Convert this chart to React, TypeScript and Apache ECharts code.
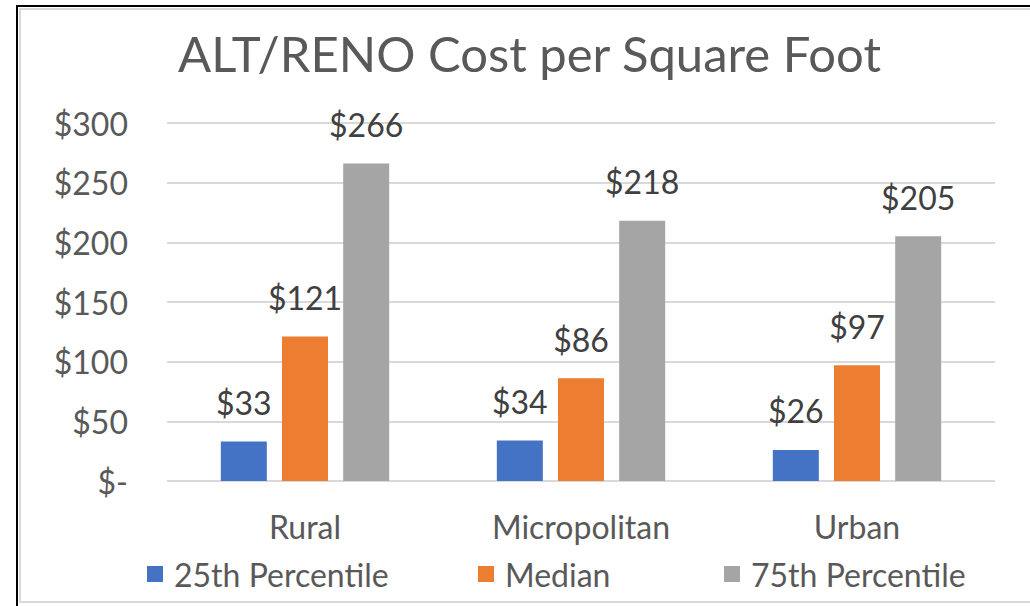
import React, { useEffect, useRef } from "react";
import * as echarts from "echarts";

const categories = ["Rural", "Micropolitan", "Urban"];
const seriesNames = ["25th Percentile", "Median", "75th Percentile"];
const p25 = [33, 34, 26];
const median = [121, 86, 97];
const p75 = [266, 218, 205];
const colors = ["#4472C4", "#ED7D31", "#A5A5A5"];
const yTicks = [0, 50, 100, 150, 200, 250, 300];

const FONT = "Lato";

export default function App() {
  const ref = useRef<HTMLDivElement>(null);
  useEffect(() => {
    if (!ref.current) return;
    const chart = echarts.init(ref.current, undefined, { renderer: "svg" });
    const values = [p25, median, p75];
    const legendLefts = [142, 473, 719];
    chart.setOption({
      animation: false,
      backgroundColor: "#ffffff",
      textStyle: { fontFamily: FONT },
      title: {
        text: "ALT/RENO Cost per Square Foot",
        left: 173,
        top: 23,
        textStyle: { fontFamily: FONT, fontSize: 49, fontWeight: "normal", color: "#595959" },
      },
      graphic: [
        {
          type: "rect",
          shape: { x: 17, y: 6, width: 1040, height: 640 },
          style: { fill: "none", stroke: "#000000", lineWidth: 2 },
          silent: true,
        },
        {
          type: "rect",
          shape: { x: 20, y: 9, width: 1030, height: 593 },
          style: { fill: "none", stroke: "#d9d9d9", lineWidth: 2 },
          silent: true,
        },
      ],
      legend: seriesNames.map((n, i) => ({
        data: [n],
        left: legendLefts[i],
        top: 553,
        itemWidth: 16,
        itemHeight: 16,
        icon: "rect",
        textStyle: { fontFamily: FONT, fontSize: 32, color: "#595959", padding: [0, 0, 0, 6] },
      })),
      grid: { left: 167, right: 35, top: 123, bottom: 125, containLabel: false },
      xAxis: {
        type: "category",
        data: categories,
        axisTick: { show: false },
        axisLine: { show: false },
        axisLabel: { fontFamily: FONT, fontSize: 32, color: "#595959", margin: 29 },
      },
      yAxis: {
        type: "value",
        min: 0,
        max: yTicks[yTicks.length - 1],
        interval: 50,
        axisLine: { show: false },
        axisTick: { show: false },
        splitLine: { lineStyle: { color: "#d9d9d9", width: 2 } },
        axisLabel: {
          fontFamily: FONT,
          fontSize: 32,
          color: "#595959",
          margin: 39,
          formatter: (v: number) => (v === 0 ? "$-" : "$" + v),
        },
      },
      series: seriesNames.map((n, i) => ({
        name: n,
        type: "bar",
        data: values[i],
        barGap: "33%",
        barCategoryGap: "39%",
        itemStyle: { color: colors[i] },
        label: {
          show: true,
          position: "top",
          distance: 23,
          fontFamily: FONT,
          fontSize: 32,
          color: "#404040",
          formatter: (p: any) => "$" + p.value,
        },
      })),
    });
    return () => chart.dispose();
  }, []);
  return (
    <div
      ref={ref}
      style={{ position: "absolute", left: 0, top: 0, width: 1030, height: 606 }}
    />
  );
}
